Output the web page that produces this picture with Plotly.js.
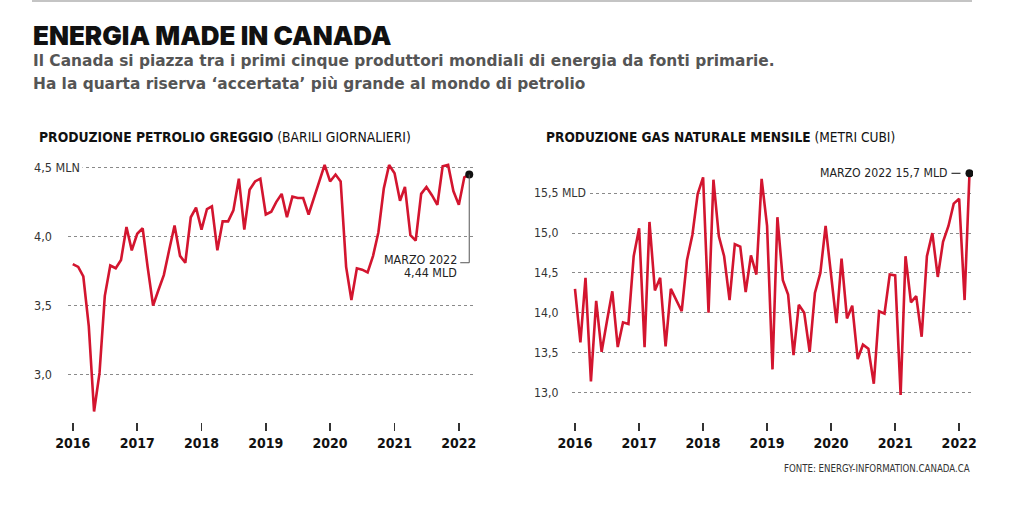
<!DOCTYPE html>
<html>
<head>
<meta charset="utf-8">
<script src="https://cdn.plot.ly/plotly-3.0.1.min.js"></script>
<style>
  html, body { margin: 0; padding: 0; background: #ffffff; }
  #chart { width: 1024px; height: 527px; }
</style>
</head>
<body>
<div id="chart"></div>
<script>
// ---------- DATA ----------
// Monthly points, January 2016 – March 2022
const months = [];
for (let y = 2016; y <= 2022; y++) {
  for (let m = 1; m <= 12; m++) {
    if (y === 2022 && m > 3) break;
    months.push(y + '-' + String(m).padStart(2, '0') + '-01');
  }
}

// Crude oil production (million barrels per day)
const oilProduction = [
  3.80, 3.78, 3.71, 3.35, 2.73, 3.01, 3.57, 3.79, 3.77, 3.83, 4.07, 3.90,
  4.02, 4.06, 3.78, 3.50, 3.61, 3.72, 3.90, 4.08, 3.86, 3.81, 4.14, 4.21,
  4.05, 4.20, 4.22, 3.90, 4.11, 4.11, 4.19, 4.42, 4.05, 4.34, 4.40, 4.42,
  4.16, 4.18, 4.25, 4.31, 4.14, 4.29, 4.28, 4.28, 4.16, 4.28, 4.39, 4.52,
  4.40, 4.45, 4.40, 3.78, 3.54, 3.77, 3.76, 3.74, 3.86, 4.03, 4.35, 4.52,
  4.46, 4.26, 4.36, 4.01, 3.97, 4.31, 4.36, 4.30, 4.23, 4.51, 4.52, 4.33,
  4.23, 4.43, 4.45
];

// Natural gas monthly production (billion cubic metres)
const gasProduction = [
  14.30, 13.63, 14.44, 13.14, 14.15, 13.51, 13.89, 14.27, 13.57, 13.88, 13.86, 14.71,
  15.06, 13.57, 15.14, 14.28, 14.44, 13.58, 14.30, 14.15, 14.02, 14.66, 14.98, 15.49,
  15.70, 14.00, 15.67, 14.96, 14.71, 14.16, 14.86, 14.83, 14.26, 14.72, 14.48, 15.68,
  15.09, 13.29, 15.20, 14.41, 14.23, 13.47, 14.10, 14.00, 13.51, 14.25, 14.50, 15.09,
  14.45, 13.87, 14.68, 13.93, 14.09, 13.42, 13.60, 13.55, 13.11, 14.02, 13.99, 14.48,
  14.47, 12.97, 14.71, 14.13, 14.21, 13.70, 14.71, 15.00, 14.45, 14.89, 15.09, 15.37,
  15.43, 14.16, 15.75
];

const yearTickVals = ['2016-01-01', '2017-01-01', '2018-01-01', '2019-01-01', '2020-01-01', '2021-01-01', '2022-01-01'];
const yearTickText = ['2016', '2017', '2018', '2019', '2020', '2021', '2022'];

const oilTickVals = [3.0, 3.5, 4.0, 4.5];
const oilTickText = ['3,0', '3,5', '4,0', '4,5 MLN'];
const gasTickVals = [13.0, 13.5, 14.0, 14.5, 15.0, 15.5];
const gasTickText = ['13,0', '13,5', '14,0', '14,5', '15,0', '15,5 MLD'];

const oilLastLabel = ['MARZO 2022', '4,44 MLD'];
const gasLastLabel = 'MARZO 2022 15,7 MLD';

// ---------- STYLE ----------
const RED = '#d3152f';
const NARROW = '"Liberation Sans Narrow", "Arial Narrow", "DejaVu Sans Condensed", "Roboto", sans-serif';
const W = 1024, H = 527;
const px = v => v / W;
const py = v => 1 - v / H;

const last = months.length - 1;

const traces = [
  { x: months, y: oilProduction, xaxis: 'x', yaxis: 'y', mode: 'lines',
    line: { color: RED, width: 2.6 }, hoverinfo: 'skip' },
  { x: [months[last]], y: [oilProduction[last]], xaxis: 'x', yaxis: 'y', mode: 'markers',
    marker: { color: '#111', size: 8 }, hoverinfo: 'skip' },
  { x: months, y: gasProduction, xaxis: 'x2', yaxis: 'y2', mode: 'lines',
    line: { color: RED, width: 2.6 }, hoverinfo: 'skip' },
  { x: [months[last]], y: [gasProduction[last]], xaxis: 'x2', yaxis: 'y2', mode: 'markers',
    marker: { color: '#111', size: 8 }, hoverinfo: 'skip' }
];

const xCommon = {
  type: 'date',
  tickvals: yearTickVals,
  ticktext: yearTickText,
  ticks: 'outside', ticklen: 8, tickwidth: 1.5, tickcolor: '#333',
  showgrid: false, showline: false, zeroline: false,
  tickfont: { family: NARROW, size: 14, color: '#111', weight: 'bold' },
  fixedrange: true
};
const yCommon = {
  showticklabels: false, ticks: '',
  showgrid: true, gridcolor: '#8a8a8a', griddash: 'dot', gridwidth: 1,
  zeroline: false, showline: false, fixedrange: true
};
const yDomain = [py(422), py(155)];

const annotations = [
  { xref: 'paper', yref: 'paper', x: px(31), y: py(35), xanchor: 'left', yanchor: 'middle',
    text: 'ENERGIA MADE IN CANADA', showarrow: false,
    font: { family: 'Inter, Roboto, sans-serif', size: 26, color: '#111', weight: 900 } },
  { xref: 'paper', yref: 'paper', x: px(31), y: py(61), xanchor: 'left', yanchor: 'middle',
    text: 'Il Canada si piazza tra i primi cinque produttori mondiali di energia da fonti primarie.', showarrow: false,
    font: { family: '"DejaVu Sans", Roboto, sans-serif', size: 15.4, color: '#555', weight: 'bold' } },
  { xref: 'paper', yref: 'paper', x: px(31), y: py(84), xanchor: 'left', yanchor: 'middle',
    text: 'Ha la quarta riserva ‘accertata’ più grande al mondo di petrolio', showarrow: false,
    font: { family: '"DejaVu Sans", Roboto, sans-serif', size: 15.4, color: '#555', weight: 'bold' } },
  { xref: 'paper', yref: 'paper', x: px(37), y: py(137), xanchor: 'left', yanchor: 'middle',
    text: '<b>PRODUZIONE PETROLIO GREGGIO</b> (BARILI GIORNALIERI)', showarrow: false,
    font: { family: NARROW, size: 13.8, color: '#111' } },
  { xref: 'paper', yref: 'paper', x: px(544), y: py(137), xanchor: 'left', yanchor: 'middle',
    text: '<b>PRODUZIONE GAS NATURALE MENSILE</b> (METRI CUBI)', showarrow: false,
    font: { family: NARROW, size: 13.6, color: '#111' } },
  { xref: 'paper', yref: 'paper', x: px(972), y: py(468), xanchor: 'right', yanchor: 'middle',
    text: 'FONTE: ENERGY-INFORMATION.CANADA.CA', showarrow: false,
    font: { family: NARROW, size: 9.6, color: '#333' } },
  // last-value labels
  { xref: 'x', yref: 'y', x: months[last], y: 3.81, xanchor: 'right', yanchor: 'middle',
    xshift: -11, yshift: 3, text: oilLastLabel[0], showarrow: false, bgcolor: '#ffffff', borderpad: 0,
    font: { family: NARROW, size: 12.4, color: '#222' } },
  { xref: 'x', yref: 'y', x: months[last], y: 3.81, xanchor: 'right', yanchor: 'middle',
    xshift: -11, yshift: -10, text: oilLastLabel[1], showarrow: false, borderpad: 0,
    font: { family: NARROW, size: 12.4, color: '#222' } },
  { xref: 'x2', yref: 'y2', x: months[last], y: gasProduction[last], xanchor: 'right', yanchor: 'middle',
    xshift: -21, text: gasLastLabel, showarrow: false, bgcolor: '#ffffff', borderpad: 0,
    font: { family: NARROW, size: 12.2, color: '#222' } }
];

oilTickVals.forEach((v, i) => annotations.push({
  xref: 'paper', yref: 'y', x: px(31), y: v, xanchor: 'left', yanchor: 'middle',
  text: oilTickText[i], showarrow: false, bgcolor: '#ffffff', borderpad: 2,
  font: { family: NARROW, size: 12.5, color: '#333' }
}));
gasTickVals.forEach((v, i) => annotations.push({
  xref: 'paper', yref: 'y2', x: px(531), y: v, xanchor: 'left', yanchor: 'middle',
  text: gasTickText[i], showarrow: false, bgcolor: '#ffffff', borderpad: 2,
  font: { family: NARROW, size: 12.2, color: '#333' }
}));

const shapes = [
  { type: 'line', xref: 'paper', yref: 'paper', x0: px(32), x1: px(972), y0: py(1), y1: py(1),
    line: { color: '#c4c4c4', width: 2 } },
  // oil connector
  { type: 'line', xref: 'x', yref: 'y', x0: months[last], x1: months[last],
    y0: oilProduction[last], y1: 3.81, line: { color: '#555', width: 1 } },
  { type: 'line', xref: 'x', yref: 'y', xsizemode: 'pixel', xanchor: months[last], x0: -9, x1: 0,
    y0: 3.81, y1: 3.81, line: { color: '#555', width: 1 } },
  // gas connector
  { type: 'line', xref: 'x2', yref: 'y2', xsizemode: 'pixel', xanchor: months[last], x0: -18, x1: -9,
    y0: gasProduction[last], y1: gasProduction[last], line: { color: '#333', width: 1.2 } }
];

const layout = {
  width: W, height: H,
  margin: { l: 0, r: 0, t: 0, b: 0 },
  paper_bgcolor: '#ffffff', plot_bgcolor: 'rgba(0,0,0,0)',
  showlegend: false,
  xaxis: Object.assign({}, xCommon, { domain: [px(68), px(474)], anchor: 'y', range: ['2015-12-05', '2022-03-28'] }),
  yaxis: Object.assign({}, yCommon, { domain: yDomain, anchor: 'x', range: [2.654, 4.592], tickvals: oilTickVals }),
  xaxis2: Object.assign({}, xCommon, { domain: [px(572), px(973)], anchor: 'y2', range: ['2015-12-15', '2022-03-21'] }),
  yaxis2: Object.assign({}, yCommon, { domain: yDomain, anchor: 'x2', range: [12.63, 15.98], tickvals: gasTickVals }),
  annotations: annotations,
  shapes: shapes
};

Plotly.newPlot('chart', traces, layout, { displayModeBar: false, staticPlot: true });
</script>
</body>
</html>
